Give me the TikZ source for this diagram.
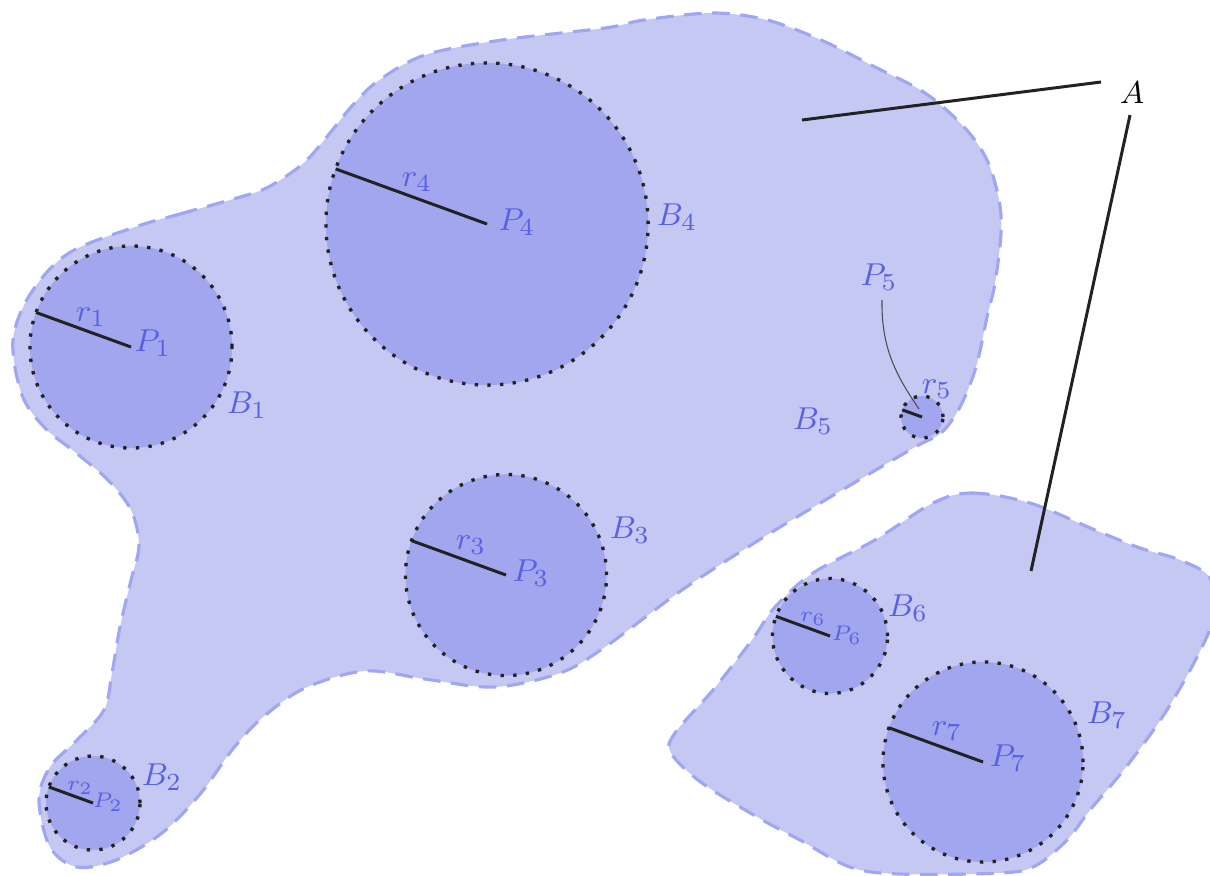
\documentclass[tikz,border=0pt]{standalone}
\definecolor{regionfill}{RGB}{197,200,243}
\definecolor{innerfill}{RGB}{161,166,238}
\definecolor{dashcol}{RGB}{160,166,242}
\definecolor{labelcol}{RGB}{88,96,228}
\definecolor{inkcol}{RGB}{34,34,34}
\tikzset{
  region/.style={fill=regionfill, draw=dashcol, line width=0.9pt, dash pattern=on 5pt off 3pt},
  ball/.style={circle, fill=innerfill, draw=inkcol, line width=0.95pt, dash pattern=on 0.95pt off 2.65pt, inner sep=0pt, outer sep=0pt},
  radline/.style={draw=inkcol, line width=0.85pt},
  lbl/.style={text=labelcol, inner sep=0pt, font=\fontsize{9.5}{11}\selectfont},
  smalllbl/.style={text=labelcol, inner sep=0pt, font=\fontsize{6.3}{7}\selectfont},
  pointer/.style={draw=inkcol, line width=0.85pt},
  leader/.style={draw=black!70, line width=0.3pt},
}
\begin{document}
\begin{tikzpicture}[x=0.01cm,y=-0.01cm]
\useasboundingbox (0,0) rectangle (1210,875);
% region 1
\draw[region] plot[smooth cycle, tension=0.55] coordinates {
 (135,227) (180,214) (230,200) (262,190) (285,177) (307,160) (330,133) (352,106)
 (378,81) (425,55) (502,40)
 (605,28) (644,20) (713,13) (767,20) (821,40) (875,67) (925,93) (964,127)
 (987,160) (999,200) (1001,233) (995,283) (987,317) (976,367) (960,407) (941,433)
 (915,447) (837,493) (759,540) (682,590) (605,647) (560,673) (494,687) (425,679)
 (365,671) (305,688) (262,718) (232,750) (201,793) (162,833) (116,860) (77,867)
 (50,847) (39,800) (50,767) (77,740) (104,710) (112,673) (120,627) (131,580)
 (139,545) (131,510) (108,480) (75,452) (45,428) (22,395) (13,340) (31,293) (69,253)};
% region 2
\draw[region] plot[smooth cycle, tension=0.55] coordinates {
 (933,503) (972,493) (1030,503) (1095,530) (1140,548) (1180,560) (1210,578) (1214,615)
 (1198,655) (1165,713) (1126,767) (1090,810) (1067,840) (1035,866) (1000,873) (900,874)
 (850,867) (800,840) (759,818) (702,783) (671,753) (675,733) (713,690) (752,640)
 (775,607) (813,573) (875,540)};
% balls
\node[ball, minimum size=2.02cm] (B1) at (131,347) {};
\node[ball, minimum size=0.94cm] (B2) at (93,803) {};
\node[ball, minimum size=2.01cm] (B3) at (506,575) {};
\node[ball, minimum size=3.22cm] (B4) at (487,224) {};
\node[ball, minimum size=0.42cm] (B5) at (922,417) {};
\node[ball, minimum size=1.15cm] (B6) at (830,636) {};
\node[ball, minimum size=2.00cm] (B7) at (983,762) {};
% radius lines
\foreach \b in {B1,B2,B3,B4,B5,B6,B7} {
  \draw[radline] (\b.center) -- (\b.160);
}
% labels
\node[lbl] (lP1) at (153,343) {$P_1$};
\node[lbl] (lr1) at (91,317) {$r_1$};
\node[lbl] (lB1) at (247,405) {$B_1$};
\node[smalllbl] (lP2) at (108,802) {$P_2$};
\node[smalllbl] (lr2) at (80,788) {$r_2$};
\node[lbl] (lB2) at (162,777) {$B_2$};
\node[lbl] (lP3) at (531,573) {$P_3$};
\node[lbl] (lr3) at (471,545) {$r_3$};
\node[lbl] (lB3) at (630,530) {$B_3$};
\node[lbl] (lP4) at (517,222) {$P_4$};
\node[lbl] (lr4) at (417,182) {$r_4$};
\node[lbl] (lB4) at (677,217) {$B_4$};
\node[lbl] (lP5) at (879,277) {$P_5$};
\node[lbl] (lr5) at (937,389) {$r_5$};
\node[lbl] (lB5) at (813,421) {$B_5$};
\node[smalllbl] (lP6) at (847,635) {$P_6$};
\node[smalllbl] (lr6) at (813,619) {$r_6$};
\node[lbl] (lB6) at (908,608) {$B_6$};
\node[lbl] (lP7) at (1008,758) {$P_7$};
\node[lbl] (lr7) at (947,731) {$r_7$};
\node[lbl] (lB7) at (1107,715) {$B_7$};
% P5 leader
\coordinate (p5end) at (919,409);
\draw[leader] (882,300) .. controls (881,350) and (898,378) .. (p5end);
% A
\node[inner sep=0pt, font=\fontsize{9.5}{11}\selectfont] (A) at (1132,93) {$A$};
\coordinate (a1s) at (802,120);
\coordinate (a1e) at (1101,82);
\coordinate (a2s) at (1130,115);
\coordinate (a2e) at (1031,571);
\draw[pointer] (a1s) -- (a1e);
\draw[pointer] (a2s) -- (a2e);
\end{tikzpicture}
\end{document}
